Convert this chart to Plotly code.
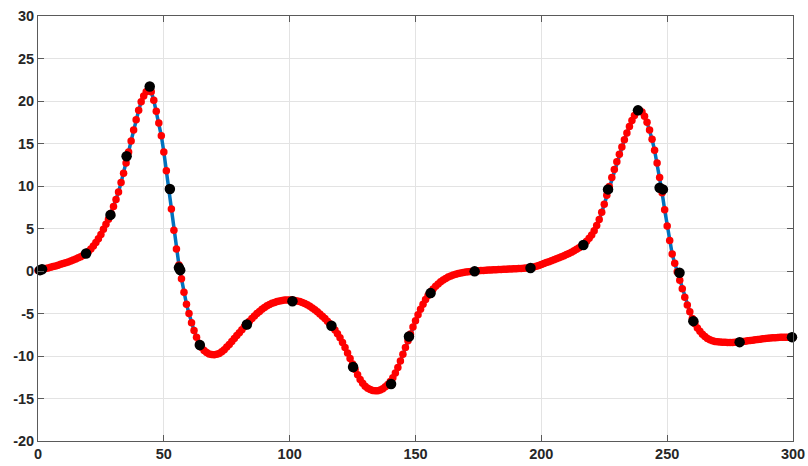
import plotly.graph_objects as go

curve_x = list(range(0, 301))
curve_y = [
    # 0-19
    0.05, 0.12, 0.2, 0.28, 0.36, 0.44, 0.52, 0.6, 0.69, 0.78,
    0.87, 0.97, 1.07, 1.18, 1.3, 1.42, 1.55, 1.69, 1.85, 2.03,
    # 20-29
    2.3, 2.6, 2.95, 3.35, 3.8, 4.3, 4.9, 5.5, 6.1, 6.8,
    # 30-39
    7.6, 8.4, 9.3, 10.4, 11.5, 12.7, 14.0, 15.3, 16.6, 17.8,
    # 40-49
    18.9, 19.9, 20.6, 21.1, 21.35, 21.1, 20.1, 18.8, 17.4, 15.9,
    # 50-59
    14.0, 11.8, 9.7, 7.3, 4.8, 2.6, 0.7, -0.9, -2.5, -3.9,
    # 60-69
    -5.0, -6.1, -7.0, -7.8, -8.5, -9.0, -9.35, -9.6, -9.75, -9.82,
    # 70-79
    -9.85, -9.8, -9.7, -9.5, -9.25, -8.95, -8.65, -8.3, -7.95, -7.6,
    # 80-89
    -7.25, -6.9, -6.55, -6.2, -5.9, -5.6, -5.3, -5.0, -4.75, -4.5,
    # 90-99
    -4.3, -4.1, -3.95, -3.8, -3.7, -3.6, -3.52, -3.46, -3.42, -3.4,
    # 100-109
    -3.4, -3.42, -3.46, -3.52, -3.6, -3.7, -3.83, -3.98, -4.15, -4.35,
    # 110-119
    -4.57, -4.8, -5.05, -5.32, -5.6, -5.9, -6.22, -6.56, -6.95, -7.38,
    # 120-129
    -7.85, -8.4, -9.0, -9.65, -10.3, -10.95, -11.6, -12.2, -12.75, -13.2,
    # 130-139
    -13.55, -13.8, -13.95, -14.05, -14.1, -14.08, -14.0, -13.85, -13.62, -13.35,
    # 140-149
    -13.0, -12.55, -12.0, -11.35, -10.6, -9.8, -9.0, -8.2, -7.4, -6.6,
    # 150-159
    -5.85, -5.15, -4.5, -3.9, -3.35, -2.88, -2.48, -2.12, -1.8, -1.52,
    # 160-169
    -1.27, -1.05, -0.87, -0.72, -0.59, -0.48, -0.38, -0.3, -0.23, -0.17,
    # 170-179
    -0.12, -0.08, -0.05, -0.02, 0.0, 0.03, 0.05, 0.07, 0.09, 0.11,
    # 180-189
    0.13, 0.14, 0.16, 0.17, 0.19, 0.2, 0.22, 0.23, 0.25, 0.26,
    # 190-199
    0.27, 0.29, 0.3, 0.32, 0.34, 0.36, 0.4, 0.47, 0.56, 0.66,
    # 200-209
    0.77, 0.88, 0.99, 1.1, 1.21, 1.32, 1.43, 1.55, 1.67, 1.8,
    # 210-219
    1.93, 2.07, 2.22, 2.38, 2.55, 2.74, 2.95, 3.2, 3.5, 3.85,
    # 220-229
    4.25, 4.75, 5.35, 6.05, 6.9, 7.85, 8.9, 9.95, 11.0, 11.95,
    # 230-239
    12.85, 13.75, 14.6, 15.45, 16.25, 17.0, 17.7, 18.3, 18.75, 18.9,
    # 240-249
    18.7, 18.2, 17.5, 16.6, 15.5, 14.2, 12.7, 11.0, 9.2, 7.2,
    # 250-259
    5.3, 3.6, 2.0, 0.9, -0.1, -1.1, -2.1, -3.1, -4.0, -4.8,
    # 260-269
    -5.6, -6.2, -6.7, -7.1, -7.45, -7.72, -7.93, -8.08, -8.2, -8.28,
    # 270-279
    -8.33, -8.36, -8.38, -8.39, -8.4, -8.4, -8.4, -8.38, -8.36, -8.33,
    # 280-289
    -8.3, -8.26, -8.22, -8.18, -8.14, -8.1, -8.06, -8.02, -7.98, -7.95,
    # 290-300
    -7.92, -7.89, -7.86, -7.84, -7.82, -7.8, -7.79, -7.78, -7.78, -7.78, -7.78,
]
assert len(curve_y) == len(curve_x)

# Sparse data points (black)
pts_x = [0.8, 1.6, 19.1, 28.8, 35.2, 44.4, 52.4, 56.0, 56.5, 64.3, 83.0, 101.1,
         116.6, 125.2, 140.3, 147.4, 156.0, 173.5, 195.7, 216.7, 226.5, 238.4,
         247.0, 248.3, 254.9, 260.4, 278.8, 299.6]
pts_y = [0.1, 0.2, 2.06, 6.6, 13.5, 21.7, 9.65, 0.4, 0.1, -8.7, -6.3, -3.55,
         -6.45, -11.3, -13.3, -7.7, -2.6, -0.04, 0.35, 3.05, 9.6, 18.9,
         9.8, 9.6, -0.2, -5.9, -8.37, -7.78]

x_ticks = [0, 50, 100, 150, 200, 250, 300]
y_ticks = [-20, -15, -10, -5, 0, 5, 10, 15, 20, 25, 30]

fig = go.Figure()
fig.add_trace(go.Scatter(x=curve_x, y=curve_y, mode="lines",
                         line=dict(color="#0072BD", width=3.5),
                         showlegend=False, hoverinfo="skip"))
fig.add_trace(go.Scatter(x=curve_x, y=curve_y, mode="markers",
                         marker=dict(color="#FF0000", size=7.5, line=dict(width=0)),
                         showlegend=False, cliponaxis=False))
fig.add_trace(go.Scatter(x=pts_x, y=pts_y, mode="markers",
                         marker=dict(color="#000000", size=10.5, line=dict(width=0)),
                         showlegend=False, cliponaxis=False))

axis_common = dict(
    showgrid=True, gridcolor="#e3e3e3", gridwidth=1,
    showline=True, linecolor="#5a5a5a", linewidth=1, mirror="ticks",
    ticks="inside", ticklen=6, tickcolor="#5a5a5a", tickwidth=1,
    zeroline=False, automargin=False,
    tickfont=dict(family="Liberation Sans, Arial, sans-serif", size=14.5,
                  color="#262626", weight="bold"),
)

fig.update_xaxes(range=[0, 300], tickvals=x_ticks,
                 ticktext=[str(v) for v in x_ticks], **axis_common)
fig.update_yaxes(range=[-20, 30], tickvals=y_ticks,
                 ticktext=[str(v) for v in y_ticks], **axis_common)

fig.update_layout(
    width=808, height=466,
    margin=dict(l=38, r=15, t=16, b=25),
    paper_bgcolor="white", plot_bgcolor="white",
    showlegend=False,
)

fig.write_html("out.html")
